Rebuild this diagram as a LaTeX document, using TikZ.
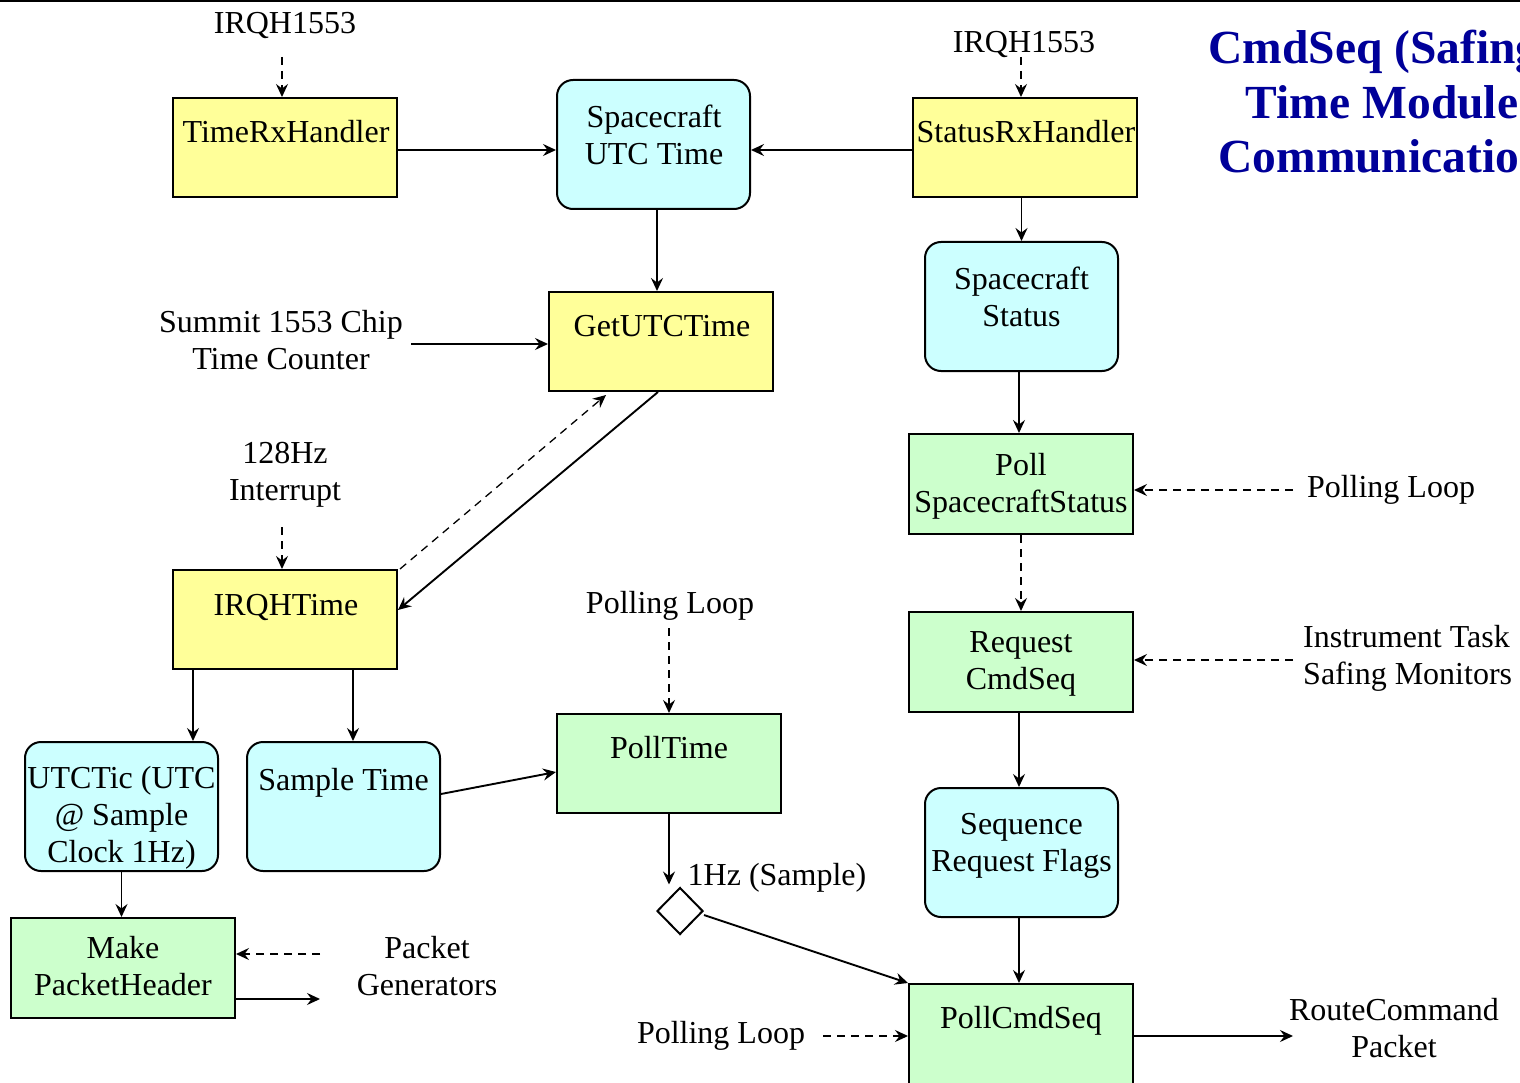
\documentclass[tikz,border=0pt]{standalone}
\usepackage{fontspec}
\setmainfont{Liberation Serif}
\usetikzlibrary{arrows.meta,shapes.geometric}
\definecolor{boxyellow}{HTML}{FFFF99}
\definecolor{boxcyan}{HTML}{CCFFFF}
\definecolor{boxgreen}{HTML}{CCFFCC}
\definecolor{titleblue}{HTML}{000099}
\newcommand\fsbody{\fontsize{32}{37}\selectfont}
\newcommand\fstitle{\fontsize{47.5}{54.5}\selectfont\bfseries}
\tikzset{
  box/.style={draw, line width=2pt, inner sep=0pt, minimum width=224pt, minimum height=99pt},
  ybox/.style={box, fill=boxyellow},
  gbox/.style={box, fill=boxgreen},
  cbox/.style={draw, line width=2pt, fill=boxcyan, rounded corners=16pt, inner sep=0pt, minimum width=193pt, minimum height=129pt},
  txt/.style={font=\fsbody, align=center, inner sep=0pt, yshift=-3pt, execute at begin node=\strut, execute at end node=\strut},
  conn/.style={line width=1.9pt, -{Stealth[length=13pt,width=12pt,inset=4.5pt]}},
  dconn/.style={conn, line width=1.6pt, dash pattern=on 8pt off 6pt},
  tconn/.style={conn, line width=1.3pt, dash pattern=on 8pt off 6pt},
}
\begin{document}
\begin{tikzpicture}[x=1pt, y=-1pt]
\clip (0,0) rectangle (1520,1083);
\fill[white] (0,0) rectangle (1520,1083);
\draw[line width=3pt] (0,0.5) -- (1520,0.5);

% title
\node[font=\fstitle, text=titleblue, align=center, inner sep=0pt, yshift=-4pt,
      execute at begin node=\strut, execute at end node=\strut] (title) at (1382,105.6)
  {CmdSeq (Safing)\\Time Module\\Communication};

% boxes
\node[ybox] (trx) at (285,147.5) {};
\node[cbox] (utc) at (653.5,144.5) {};
\node[ybox] (srx) at (1025,147.5) {};
\node[ybox] (get) at (661,341.5) {};
\node[cbox] (scs) at (1021.5,306.5) {};
\node[gbox, minimum height=100pt] (pss) at (1021,484) {};
\node[gbox, minimum height=100pt] (req) at (1021,662) {};
\node[cbox] (srf) at (1021.5,852.5) {};
\node[gbox, minimum height=100pt] (pcs) at (1021,1034) {};
\node[ybox] (irq) at (285,619.5) {};
\node[cbox] (tic) at (121.5,806.5) {};
\node[cbox] (smp) at (343.5,806.5) {};
\node[gbox] (ptm) at (669,763.5) {};
\node[gbox, minimum height=100pt] (mph) at (123,968) {};
\node[diamond, draw, line width=2pt, fill=white, inner sep=0pt, minimum width=46pt, minimum height=47pt] (dia) at (680,911) {};

% box texts
\node[txt] (trxt) at (286,132.6) {TimeRxHandler};
\node[txt] (utct) at (654,137.6) {Spacecraft\\UTC Time};
\node[txt] (srxt) at (1026,132.6) {StatusRxHandler};
\node[txt] (gett) at (662,325.6) {GetUTCTime};
\node[txt] (scst) at (1021.5,299.1) {Spacecraft\\Status};
\node[txt] (psst) at (1021,485.6) {Poll\\SpacecraftStatus};
\node[txt] (reqt) at (1021,663.1) {Request\\CmdSeq};
\node[txt] (srft) at (1021.5,845.1) {Sequence\\Request Flags};
\node[txt] (pcst) at (1021,1017.6) {PollCmdSeq};
\node[txt] (irqt) at (286,604.6) {IRQHTime};
\node[txt] (tict) at (121.5,816.6) {UTCTic (UTC\\@ Sample\\Clock 1Hz)};
\node[txt] (smpt) at (343.5,779.6) {Sample Time};
\node[txt] (ptmt) at (669,747.6) {PollTime};
\node[txt] (mpht) at (123,968.6) {Make\\PacketHeader};

% free labels
\node[txt] (lirq1) at (285,23.6) {IRQH1553};
\node[txt] (lirq2) at (1024,42.6) {IRQH1553};
\node[txt] (lsum) at (281,342.1) {Summit 1553 Chip\\Time Counter};
\node[txt] (l128) at (285,473.6) {128Hz\\Interrupt};
\node[txt] (lplm) at (670,602.6) {Polling Loop};
\node[txt] (lplr) at (1391,486.6) {Polling Loop};
\node[txt, align=left, anchor=west] (linst) at (1303,657.6) {Instrument Task\\Safing Monitors};
\node[txt] (lplb) at (721,1032.6) {Polling Loop};
\node[txt] (l1hz) at (777,874.6) {1Hz (Sample)};
\node[txt] (lpg) at (427,968.1) {Packet\\Generators};
\node[txt] (lrc) at (1394,1030.6) {RouteCommand\\Packet};

% free connector ends
\coordinate (c1) at (282,57);
\coordinate (c2) at (1021,57);
\coordinate (csum) at (411,344);
\coordinate (c128) at (282,527);
\coordinate (cplm) at (669,628);
\coordinate (cplr) at (1293,490);
\coordinate (cinst) at (1293,660);
\coordinate (cplb) at (823,1036);
\coordinate (crc) at (1293,1036);
\coordinate (cpgin) at (320,954);
\coordinate (cpgout) at (320,999);
\coordinate (cget) at (606,395);

% connectors
\draw[dconn] (c1) -- (c1 |- trx.north);
\draw[dconn] (c2) -- (c2 |- srx.north);
\draw[conn] ([yshift=-2.5pt]trx.east) -- ([yshift=-2.5pt]trx.east -| utc.west);
\draw[conn] ([yshift=-2.5pt]srx.west) -- ([yshift=-2.5pt]srx.west -| utc.east);
\draw[conn] ([xshift=3.5pt]utc.south) -- ([xshift=3.5pt]utc.south |- get.north);
\draw[conn] (csum) -- (csum -| get.west);
\draw[conn] (scs.north |- srx.south) -- (scs.north);
\draw[conn] ([xshift=-2.5pt]scs.south) -- ([xshift=-2.5pt]scs.south |- pss.north);
\draw[dconn] (cplr) -- (cplr -| pss.east);
\draw[dconn] (pss.south) -- (req.north);
\draw[tconn] (cinst) -- (cinst -| req.east);
\draw[conn] ([xshift=-2pt]req.south) -- ([xshift=-2pt]req.south |- srf.north);
\draw[conn] ([xshift=-2.5pt]srf.south) -- ([xshift=-2.5pt]srf.south |- pcs.north);
\draw[conn] (crc -| pcs.east) -- (crc);
\draw[tconn] (cplb) -- (cplb -| pcs.west);
\draw[dconn] (c128) -- (c128 |- irq.north);
\draw[tconn] ([xshift=2pt]irq.north east) -- (cget);
\draw[conn] ([xshift=-3pt]get.south) -- ([yshift=9.5pt]irq.east);
\draw[conn] ([xshift=-92pt]irq.south) -- ([xshift=-92pt]irq.south |- tic.north);
\draw[conn] ([xshift=68pt]irq.south) -- ([xshift=68pt]irq.south |- smp.north);
\draw[conn] (tic.south) -- (tic.south |- mph.north);
\draw[conn] ([yshift=12.5pt]smp.east) -- ([yshift=-8.5pt]ptm.west);
\draw[dconn] (cplm) -- (cplm |- ptm.north);
\draw[conn] (ptm.south) -- ([yshift=2pt]ptm.south |- dia.north);
\draw[conn] ([yshift=-4pt]dia.east) -- (pcs.north west);
\draw[dconn] (cpgin) -- (cpgin -| mph.east);
\draw[conn] (cpgout -| mph.east) -- (cpgout);
\end{tikzpicture}
\end{document}
